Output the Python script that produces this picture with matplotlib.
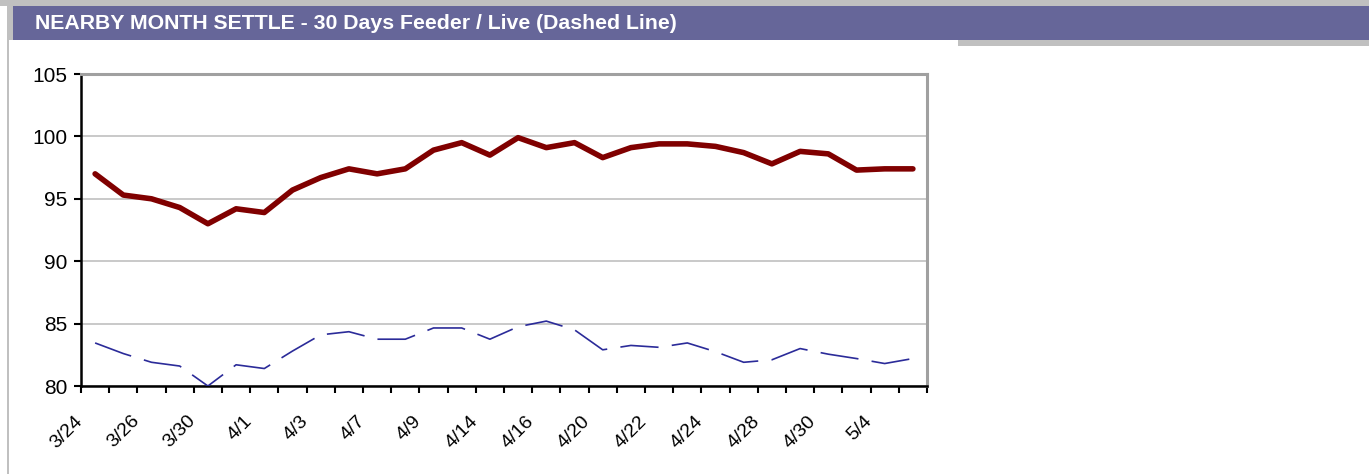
import matplotlib
matplotlib.use("Agg")
import matplotlib.pyplot as plt
from matplotlib.patches import Rectangle
import matplotlib.transforms as mtransforms
import numpy as np

# trading days shown on the chart
dates = ['3/24', '3/25', '3/26', '3/27', '3/30', '3/31', '4/1', '4/2', '4/3', '4/6',
         '4/7', '4/8', '4/9', '4/13', '4/14', '4/15', '4/16', '4/17', '4/20', '4/21',
         '4/22', '4/23', '4/24', '4/27', '4/28', '4/29', '4/30', '5/1', '5/4', '5/5']

# feeder settle (solid) and live settle (dashed)
feeder = [97.0, 95.3, 95.0, 94.3, 93.0, 94.2, 93.9, 95.7, 96.7, 97.4,
          97.0, 97.4, 98.9, 99.5, 98.5, 99.9, 99.1, 99.5, 98.3, 99.1,
          99.4, 99.4, 99.2, 98.7, 97.8, 98.8, 98.6, 97.3, 97.4, 97.4]
live = [83.45, 82.6, 81.9, 81.6, 80.0, 81.7, 81.4, 82.8, 84.1, 84.35,
        83.75, 83.75, 84.65, 84.65, 83.75, 84.75, 85.2, 84.5, 82.9, 83.25,
        83.1, 83.45, 82.75, 81.9, 82.1, 83.0, 82.55, 82.2, 81.8, 82.2]

yticks = [80, 85, 90, 95, 100, 105]
title = "NEARBY MONTH SETTLE - 30 Days Feeder / Live (Dashed Line)"

W, H = 1369, 474
fig = plt.figure(figsize=(W / 100, H / 100), dpi=100)
fig.patch.set_facecolor('white')

def box(x0, y0, x1, y1, color):
    # pixel box -> figure fraction rectangle
    fig.patches.append(Rectangle((x0 / W, 1 - y1 / H), (x1 - x0) / W, (y1 - y0) / H,
                                 transform=fig.transFigure, facecolor=color,
                                 edgecolor='none', zorder=0))

# page chrome
box(0, 0, W, 6, '#c0c0c0')
box(7, 0, 13, 40, '#c0c0c0')
box(7, 0, 9, H, '#c0c0c0')
box(13, 6, W, 40, '#666699')
box(958, 40, W, 46, '#c0c0c0')
fig.text(35 / W, 1 - 23.5 / H, title, color='white', fontweight='bold',
         fontsize=15.3, family='Liberation Sans', va='center', ha='left')

ax = fig.add_axes([81 / W, 1 - 386 / H, (927 - 81) / W, (386 - 74) / H])
x = np.arange(len(dates))
ax.plot(x, feeder, color='#800000', lw=4.0, solid_capstyle='round',
        solid_joinstyle='round', zorder=3)
ax.plot(x, live, color='#2b2b99', lw=1.2, dashes=(23, 8), zorder=3)

ax.set_xlim(-0.5, len(dates) - 0.5)
ax.set_ylim(80, 105)
ax.set_yticks(yticks)
ax.set_yticklabels([str(v) for v in yticks], family='Liberation Sans', fontsize=15)
ax.yaxis.grid(True, color='#c0c0c0', lw=1.2)
ax.set_axisbelow(True)

# ticks between categories, labels on every other day
ax.set_xticks(np.arange(-0.5, len(dates), 1.0), minor=True)
ax.set_xticks(x[::2])
ax.set_xticklabels(dates[::2], rotation=45, ha='right', rotation_mode='anchor',
                   family='Liberation Sans', fontsize=14)
ax.tick_params(axis='x', which='major', length=0, pad=19)
ax.tick_params(axis='x', which='minor', length=5, width=1.5, color='black')
ax.tick_params(axis='y', length=5, width=1.5, pad=5, color='black')
offset = mtransforms.ScaledTranslation(-21 / 100, 0, fig.dpi_scale_trans)
for lbl in ax.get_xticklabels():
    lbl.set_transform(lbl.get_transform() + offset)

for side in ['left', 'bottom']:
    ax.spines[side].set_color('black')
    ax.spines[side].set_linewidth(1.8)
for side in ['top', 'right']:
    ax.spines[side].set_color('#a0a0a0')
    ax.spines[side].set_linewidth(2.2)

fig.savefig('out.png', dpi=100)
